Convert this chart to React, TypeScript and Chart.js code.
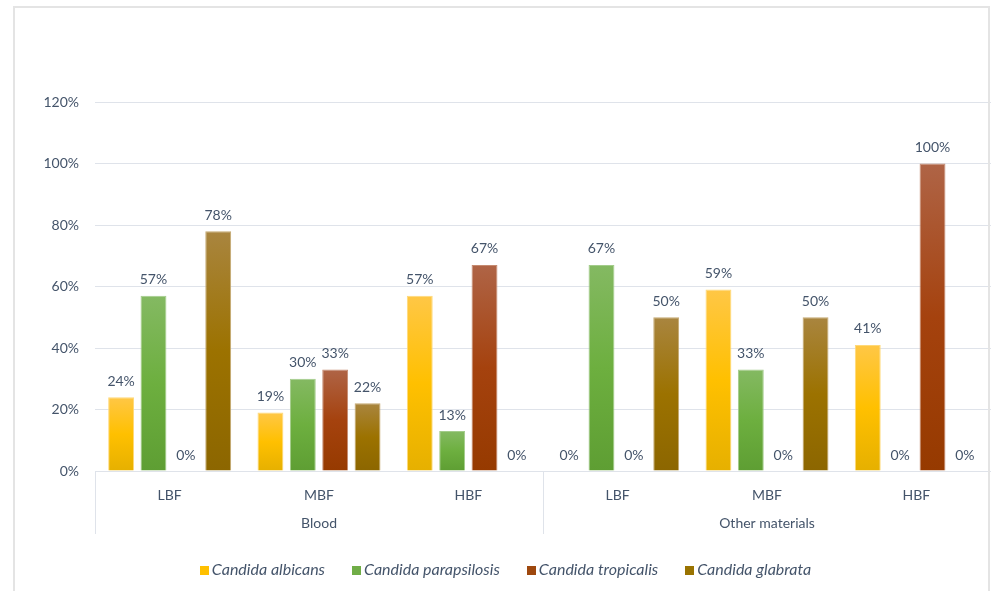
import React, { useEffect, useRef } from "react";
import { Chart, registerables } from "chart.js";

Chart.register(...registerables);

const subCategories = ["LBF", "MBF", "HBF", "LBF", "MBF", "HBF"];
const groupLabels = ["Blood", "Other materials"];
const groupStart = [0, 3];
const groupEnd = [2, 5];
const seriesNames = ["Candida albicans", "Candida parapsilosis", "Candida tropicalis", "Candida glabrata"];
const albicans = [24, 19, 57, 0, 59, 41];
const parapsilosis = [57, 30, 13, 67, 33, 0];
const tropicalis = [0, 33, 67, 0, 0, 100];
const glabrata = [78, 22, 0, 50, 50, 0];
const yMax = 120;
const yStep = 20;

const solidColors = ["#FFC000", "#70AD47", "#9E480E", "#997300"];
const gradientStops = [
  ["#FFC746", "#FFC000", "#E6B000"],
  ["#84B962", "#6DAF3F", "#5E9E33"],
  ["#AF6446", "#A5420E", "#963A00"],
  ["#A9853F", "#9C7200", "#8C6600"],
];
const borderColors = ["#FFD978", "#A3CC8A", "#C58A70", "#C4A870"];

const FONT = "Lato, 'Noto Sans', sans-serif";
const TEXT = "#44546A";
const GRID = "#dfe3ea";

const seriesValues = [albicans, parapsilosis, tropicalis, glabrata];

function makeBg(i: number) {
  return (ctx: any) => {
    const chart = ctx.chart;
    const y = chart.scales && chart.scales.y;
    if (ctx.type !== "data" || !y || !chart.chartArea) return solidColors[i];
    const v = ctx.raw as number;
    const top = y.getPixelForValue(v);
    const bottom = y.getPixelForValue(0);
    if (!(bottom - top > 1)) return solidColors[i];
    const g = chart.ctx.createLinearGradient(0, top, 0, bottom);
    g.addColorStop(0, gradientStops[i][0]);
    g.addColorStop(0.5, gradientStops[i][1]);
    g.addColorStop(1, gradientStops[i][2]);
    return g;
  };
}

const annotatePlugin = {
  id: "annotate",
  afterDatasetsDraw(chart: any) {
    const ctx = chart.ctx;
    ctx.save();
    ctx.font = `14px ${FONT}`;
    ctx.fillStyle = TEXT;
    ctx.textAlign = "center";
    ctx.textBaseline = "middle";
    chart.data.datasets.forEach((ds: any, di: number) => {
      const meta = chart.getDatasetMeta(di);
      meta.data.forEach((el: any, idx: number) => {
        const v = ds.data[idx];
        ctx.fillText(`${v}%`, el.x, el.y - 16);
      });
    });
    ctx.restore();
  },
  afterDraw(chart: any) {
    const ctx = chart.ctx;
    const xs = chart.scales.x;
    const base = chart.chartArea.bottom;
    const half = (xs.getPixelForValue(1) - xs.getPixelForValue(0)) / 2;
    ctx.save();
    ctx.strokeStyle = GRID;
    ctx.lineWidth = 1;
    const edges: number[] = [];
    groupStart.forEach((s) => edges.push(xs.getPixelForValue(s) - half));
    edges.push(xs.getPixelForValue(groupEnd[groupEnd.length - 1]) + half);
    edges.forEach((x) => {
      const px = Math.round(x) + 0.5;
      ctx.beginPath();
      ctx.moveTo(px, base);
      ctx.lineTo(px, base + 63);
      ctx.stroke();
    });
    ctx.font = `14px ${FONT}`;
    ctx.fillStyle = TEXT;
    ctx.textAlign = "center";
    ctx.textBaseline = "middle";
    groupLabels.forEach((lab, gi) => {
      const cx = (xs.getPixelForValue(groupStart[gi]) + xs.getPixelForValue(groupEnd[gi])) / 2;
      ctx.fillText(lab, cx, base + 52);
    });

    // legend
    ctx.font = `italic 16px ${FONT}`;
    const box = 9;
    const boxGap = 3;
    const itemGap = 27;
    const widths = seriesNames.map((n) => ctx.measureText(n).width);
    const total = widths.reduce((a, w) => a + box + boxGap + w, 0) + itemGap * (seriesNames.length - 1);
    let x = chart.width / 2 + 10 - total / 2;
    const ly = chart.height - 21;
    ctx.textAlign = "left";
    seriesNames.forEach((n, i) => {
      ctx.fillStyle = solidColors[i];
      ctx.fillRect(Math.round(x), Math.round(ly - box / 2), box, box);
      ctx.fillStyle = TEXT;
      ctx.fillText(n, x + box + boxGap, ly);
      x += box + boxGap + widths[i] + itemGap;
    });
    ctx.restore();
  },
};

export default function App() {
  const ref = useRef<HTMLCanvasElement>(null);
  useEffect(() => {
    const chart = new Chart(ref.current as HTMLCanvasElement, {
      type: "bar",
      data: {
        labels: subCategories,
        datasets: seriesNames.map((name, i) => ({
          label: name,
          data: seriesValues[i],
          backgroundColor: makeBg(i),
          borderColor: borderColors[i],
          borderWidth: 1,
          categoryPercentage: 0.867,
          barPercentage: 0.8,
        })),
      },
      options: {
        animation: false,
        responsive: false,
        maintainAspectRatio: false,
        layout: { padding: { top: 102, right: 0, left: 0, bottom: 50 } },
        plugins: {
          tooltip: { enabled: false },
          legend: { display: false },
        },
        scales: {
          x: {
            grid: { display: false, drawTicks: false },
            border: { display: true, color: GRID },
            ticks: { color: TEXT, font: { family: FONT, size: 14 }, padding: 16 },
            afterFit: (s: any) => {
              s.height = 70;
            },
          },
          y: {
            min: 0,
            max: yMax,
            ticks: {
              stepSize: yStep,
              color: TEXT,
              font: { family: FONT, size: 14 },
              padding: 16,
              callback: (v: any) => `${v}%`,
            },
            grid: { color: GRID, drawTicks: false },
            border: { display: false },
            afterFit: (s: any) => {
              s.width = 95;
            },
          },
        },
      },
      plugins: [annotatePlugin],
    });
    return () => chart.destroy();
  }, []);
  return (
    <div style={{ position: "fixed", left: 0, top: 0, width: 991, height: 591, background: "#fff" }}>
      <canvas ref={ref} width={991} height={591} style={{ display: "block" }} />
      <div
        style={{
          position: "absolute",
          left: 13,
          top: 6,
          width: 977,
          height: 600,
          border: "2px solid #e4e4e4",
          boxSizing: "border-box",
          pointerEvents: "none",
        }}
      />
    </div>
  );
}
